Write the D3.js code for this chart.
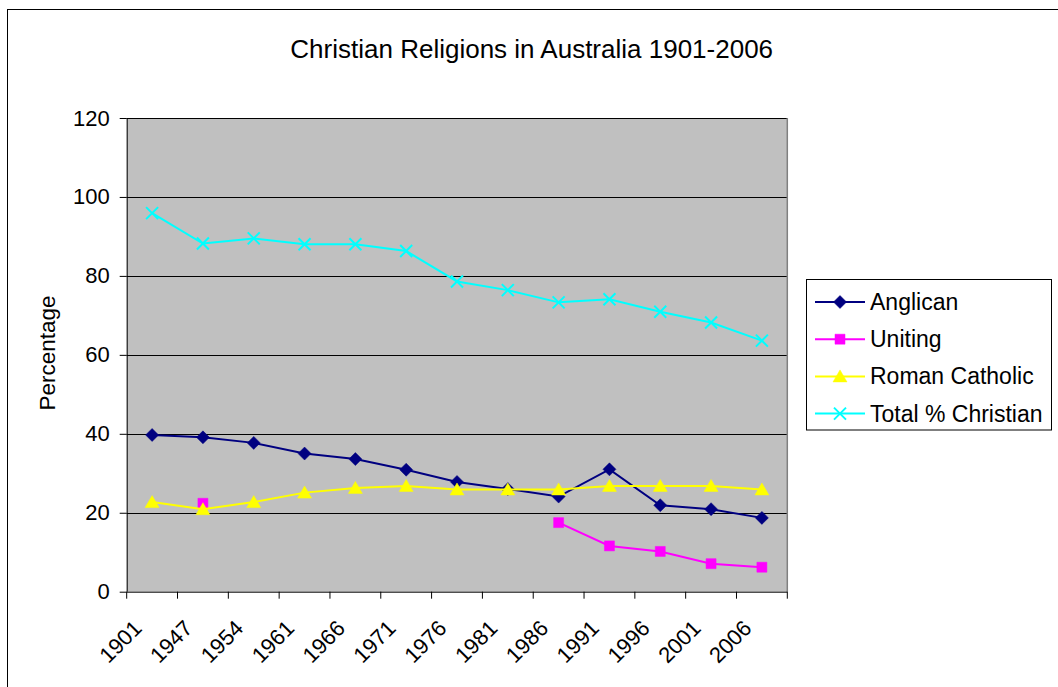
<!DOCTYPE html>
<html>
<head>
<meta charset="utf-8">
<script src="https://cdn.jsdelivr.net/npm/d3@7"></script>
<style>
  body { margin: 0; background: #fff; }
  text { font-family: "Liberation Sans", Arial, sans-serif; fill: #000; }
</style>
</head>
<body>
<div id="chart"></div>
<script>
// data
let years = ['1901', '1947', '1954', '1961', '1966', '1971', '1976', '1981', '1986', '1991', '1996', '2001', '2006'];
let anglican = [39.7, 39.1, 37.7, 35.0, 33.6, 30.9, 27.8, 26.0, 24.1, 31.0, 21.9, 20.9, 18.7];
let uniting = [null, 22.4, null, null, null, null, null, null, 17.5, 11.6, 10.2, 7.1, 6.2];
let romanCatholic = [22.7, 20.9, 22.7, 25.1, 26.3, 26.8, 25.9, 25.9, 25.9, 26.8, 26.8, 26.8, 25.9];
let totalChristian = [95.9, 88.2, 89.5, 88.0, 88.0, 86.3, 78.6, 76.4, 73.3, 74.1, 70.9, 68.2, 63.6];
let yTicks = [0, 20, 40, 60, 80, 100, 120];

let series = [
  { name: 'Anglican', values: anglican, color: '#000080', marker: 'diamond' },
  { name: 'Uniting', values: uniting, color: '#FF00FF', marker: 'square' },
  { name: 'Roman Catholic', values: romanCatholic, color: '#FFFF00', marker: 'triangle' },
  { name: 'Total % Christian', values: totalChristian, color: '#00FFFF', marker: 'cross' }
];

// chart setup
let svgWidth = 1058;
let svgHeight = 687;
let margin = { top: 118, left: 126.7 };
let width = 660.6;
let height = 473.7;

let svg = d3.select('#chart')
  .append('svg')
  .attr('width', svgWidth)
  .attr('height', svgHeight);

// outer chart border
svg.append('rect')
  .attr('x', 7.5).attr('y', 9.5)
  .attr('width', 1070).attr('height', 700)
  .attr('fill', '#fff')
  .attr('stroke', '#000')
  .attr('stroke-width', 1);

svg.append('text')
  .attr('x', 531.7)
  .attr('y', 58)
  .attr('text-anchor', 'middle')
  .style('font-size', '26px')
  .text('Christian Religions in Australia 1901-2006');

let chartGroup = svg.append('g')
  .attr('transform', `translate(${margin.left},${margin.top})`);

let x = d3.scaleBand().domain(years).range([0, width]).padding(0);
let y = d3.scaleLinear().domain([0, 120]).range([height, 0]);
let cx = d => x(d) + x.bandwidth() / 2;

// plot area
chartGroup.append('rect')
  .attr('width', width).attr('height', height)
  .attr('fill', '#C0C0C0');

// gridlines
chartGroup.append('g')
  .selectAll('line')
  .data(yTicks.filter(t => t > 0))
  .enter()
  .append('line')
  .attr('x1', 0).attr('x2', width)
  .attr('y1', d => Math.round(y(d)) + 0.5)
  .attr('y2', d => Math.round(y(d)) + 0.5)
  .attr('stroke', '#000')
  .attr('stroke-width', 1);

// right edge of plot area
chartGroup.append('line')
  .attr('x1', width).attr('x2', width)
  .attr('y1', 0).attr('y2', height)
  .attr('stroke', '#808080')
  .attr('stroke-width', 1.5);

// y axis
let leftAxis = d3.axisLeft(y).tickValues(yTicks).tickSize(7).tickPadding(10);
let yAxis = chartGroup.append('g').call(leftAxis);
yAxis.select('.domain').attr('stroke', '#000').attr('d', `M0.5,0V${height}`);
yAxis.selectAll('text')
  .style('font-size', '22px')
  .attr('font-family', null);

// x axis, ticks at the category edges
let bottomAxis = d3.axisBottom(x).tickSize(0).tickFormat('');
let xAxis = chartGroup.append('g')
  .attr('transform', `translate(0,${height})`)
  .call(bottomAxis);
xAxis.select('.domain').attr('stroke', '#000').attr('d', `M0,0.5H${width}`);
xAxis.selectAll('.edge')
  .data(d3.range(years.length + 1))
  .enter()
  .append('line')
  .attr('x1', i => i * x.bandwidth())
  .attr('x2', i => i * x.bandwidth())
  .attr('y1', 0).attr('y2', 7)
  .attr('stroke', '#000');

xAxis.selectAll('.yearLabel')
  .data(years)
  .enter()
  .append('text')
  .attr('transform', d => `translate(${cx(d) - 9},${38}) rotate(-45)`)
  .attr('text-anchor', 'end')
  .style('font-size', '22px')
  .text(d => d);

// y axis title
svg.append('text')
  .attr('transform', 'translate(55,353) rotate(-90)')
  .attr('text-anchor', 'middle')
  .style('font-size', '22.5px')
  .text('Percentage');

// marker shapes
function markerPath(kind) {
  if (kind === 'diamond') return 'M0,-6.5L6.5,0L0,6.5L-6.5,0Z';
  if (kind === 'square') return 'M-5,-5H5V5H-5Z';
  if (kind === 'triangle') return 'M0,-6.5L7,5.5H-7Z';
  return 'M-6,-6L6,6M-6,6L6,-6';
}
function drawMarker(g, s) {
  let p = g.append('path').attr('d', markerPath(s.marker));
  if (s.marker === 'cross') {
    p.attr('fill', 'none').attr('stroke', s.color).attr('stroke-width', 2);
  } else {
    p.attr('fill', s.color).attr('stroke', s.color).attr('stroke-width', 0.5);
  }
}

let line = d3.line()
  .defined(d => d.v != null)
  .x(d => cx(d.year))
  .y(d => y(d.v));

series.forEach(s => {
  let pts = years.map((yr, i) => ({ year: yr, v: s.values[i] }));
  let g = chartGroup.append('g');
  g.append('path')
    .datum(pts)
    .attr('d', line)
    .attr('fill', 'none')
    .attr('stroke', s.color)
    .attr('stroke-width', 2);
  g.selectAll('g')
    .data(pts.filter(d => d.v != null))
    .enter()
    .append('g')
    .attr('transform', d => `translate(${cx(d.year)},${y(d.v)})`)
    .each(function() { drawMarker(d3.select(this), s); });
});

// legend
let legend = svg.append('g');
legend.append('rect')
  .attr('x', 806.5).attr('y', 279.5)
  .attr('width', 245).attr('height', 150.5)
  .attr('fill', '#fff')
  .attr('stroke', '#000');

let items = legend.selectAll('.item')
  .data(series)
  .enter()
  .append('g')
  .attr('transform', (d, i) => `translate(0,${302 + i * 37.2})`);
items.append('line')
  .attr('x1', 815).attr('x2', 865)
  .attr('stroke', d => d.color)
  .attr('stroke-width', 2);
items.append('g')
  .attr('transform', 'translate(840,0)')
  .each(function(d) { drawMarker(d3.select(this), d); });
items.append('text')
  .attr('x', 870)
  .attr('dy', '0.35em')
  .style('font-size', '23px')
  .text(d => d.name);
</script>
</body>
</html>
